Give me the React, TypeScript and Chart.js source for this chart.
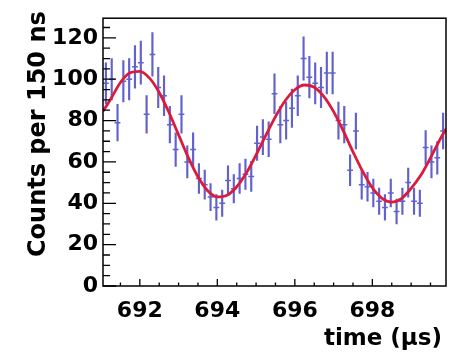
import React, { useEffect, useRef } from "react";
import { Chart, registerables } from "chart.js";

Chart.register(...registerables);

// Histogram bin centres (150 ns bins), in microseconds
const binTimes = [
  691.125, 691.275, 691.425, 691.575, 691.725, 691.875, 692.025, 692.175, 692.325, 692.475,
  692.625, 692.775, 692.925, 693.075, 693.225, 693.375, 693.525, 693.675, 693.825, 693.975,
  694.125, 694.275, 694.425, 694.575, 694.725, 694.875, 695.025, 695.175, 695.325, 695.475,
  695.625, 695.775, 695.925, 696.075, 696.225, 696.375, 696.525, 696.675, 696.825, 696.975,
  697.125, 697.275, 697.425, 697.575, 697.725, 697.875, 698.025, 698.175, 698.325, 698.475,
  698.625, 698.775, 698.925, 699.075, 699.225, 699.375, 699.525, 699.675, 699.825,
];

// Counts per bin
const counts = [
  98, 100, 79, 99, 100, 106, 108, 83, 112, 96,
  92, 78, 66, 83, 60, 66, 52, 49, 43, 38,
  40, 51, 47, 52, 54, 53, 69, 72, 71, 93,
  78, 80, 86, 92, 110, 101, 98, 96, 103, 103,
  80, 78, 56, 75, 49, 48, 45, 41, 38, 45,
  36, 41, 50, 41, 40, 67, 60, 62, 75,
];

// Fit curve
const fitTimes = [
  691.05, 691.25, 691.5, 691.75, 692.0, 692.25, 692.5, 692.75, 693.0, 693.25,
  693.5, 693.75, 694.0, 694.25, 694.5, 694.75, 695.0, 695.25, 695.5, 695.75,
  696.0, 696.25, 696.5, 696.75, 697.0, 697.25, 697.5, 697.75, 698.0, 698.25,
  698.5, 698.75, 699.0, 699.25, 699.5, 699.75, 699.9,
];
const fitValues = [
  84.5, 90.4, 98.4, 103.1, 103.8, 100.5, 93.6, 84.0, 73.1, 62.2,
  52.8, 46.1, 43.1, 43.9, 48.0, 54.7, 63.4, 72.8, 81.9, 89.6,
  94.9, 97.2, 96.1, 91.6, 84.3, 75.0, 64.9, 55.4, 47.5, 42.4,
  40.6, 42.3, 47.2, 53.5, 62.0, 71.0, 76.0,
];

const xTickLabels = [692, 694, 696, 698];
const yTickLabels = [0, 20, 40, 60, 80, 100, 120];
const xTitle = "time (µs)";
const yTitle = "Counts per 150 ns";
const binHalfWidth = 0.075;

const X_MIN = 691.05;
const X_MAX = 699.9;
const Y_MIN = 0;
const Y_MAX = 129.5;

const ERR_COLOR = "#6262cc";
const FIT_COLOR = "#dc1a3c";
const FONT = '"DejaVu Sans", "Liberation Sans", sans-serif';

const rootFramePlugin = {
  id: "rootFrame",
  afterDraw(chart: any) {
    const { ctx, chartArea: a, scales } = chart;
    const xs = scales.x;
    const ys = scales.y;
    ctx.save();
    ctx.strokeStyle = "#000";
    ctx.lineWidth = 1.5;
    ctx.strokeRect(a.left, a.top, a.right - a.left, a.bottom - a.top);

    ctx.lineWidth = 1.3;
    ctx.beginPath();
    for (let k = 0; k * 5 <= ys.max + 1e-9; k++) {
      const v = k * 5;
      const y = ys.getPixelForValue(v);
      const len = v % 20 === 0 ? 13 : 7;
      ctx.moveTo(a.left, y);
      ctx.lineTo(a.left + len, y);
    }
    for (let k = Math.ceil(xs.min * 2); k <= Math.floor(xs.max * 2); k++) {
      const v = k / 2;
      const x = xs.getPixelForValue(v);
      const len = k % 4 === 0 ? 7 : 3.5;
      ctx.moveTo(x, a.bottom);
      ctx.lineTo(x, a.bottom - len);
    }
    ctx.stroke();

    ctx.fillStyle = "#000";
    ctx.font = `bold 23px ${FONT}`;
    ctx.textAlign = "right";
    ctx.textBaseline = "alphabetic";
    ctx.fillText(xTitle, a.right - 4, a.bottom + 59);

    ctx.translate(a.left - 58, a.top - 7);
    ctx.rotate(-Math.PI / 2);
    ctx.font = `bold 24px ${FONT}`;
    ctx.textAlign = "right";
    ctx.fillText(yTitle, 0, 0);
    ctx.restore();
  },
};

export default function App() {
  const canvasRef = useRef<HTMLCanvasElement | null>(null);

  useEffect(() => {
    const canvas = canvasRef.current;
    if (!canvas) return;
    const tickFont = { family: FONT, size: 22, weight: "bold" as const };

    const chart = new Chart(canvas, {
      type: "scatter",
      data: {
        datasets: [
          {
            type: "line",
            label: "fit",
            data: fitTimes.map((t, i) => ({ x: t, y: fitValues[i] })),
            borderColor: FIT_COLOR,
            borderWidth: 2.8,
            pointRadius: 0,
            cubicInterpolationMode: "monotone",
            fill: false,
            order: 0,
          } as any,
          {
            type: "scatter",
            label: "bins",
            data: binTimes.map((t, i) => ({ x: t, y: counts[i] })),
            pointStyle: "line",
            pointRadius: (c: any) => {
              const s = c.chart.scales.x;
              return Math.abs(s.getPixelForValue(s.min + binHalfWidth) - s.getPixelForValue(s.min));
            },
            borderColor: ERR_COLOR,
            backgroundColor: ERR_COLOR,
            pointBorderWidth: 1.5,
            order: 1,
          } as any,
          {
            type: "bar",
            label: "errors",
            data: binTimes.map((t, i) => ({
              x: t,
              y: [counts[i] - Math.sqrt(counts[i]), counts[i] + Math.sqrt(counts[i])],
            })),
            backgroundColor: ERR_COLOR,
            borderWidth: 0,
            barThickness: 1.5,
            grouped: false,
            order: 2,
          } as any,
        ],
      },
      options: {
        responsive: false,
        animation: false,
        devicePixelRatio: 1,
        events: [],
        layout: { padding: { top: 12, right: 13, left: 0, bottom: 0 } },
        plugins: {
          legend: { display: false },
          tooltip: { enabled: false },
        },
        scales: {
          x: {
            type: "linear",
            position: "bottom",
            min: X_MIN,
            max: X_MAX,
            offset: false,
            grid: { display: false, drawTicks: false, offset: false },
            border: { display: false },
            ticks: {
              stepSize: 2,
              includeBounds: false,
              autoSkip: false,
              maxRotation: 0,
              padding: 12,
              color: "#000",
              font: tickFont,
              callback: (v: any) => (xTickLabels.includes(Number(v)) ? String(v) : ""),
            },
            afterFit: (s: any) => {
              s.height = 70;
            },
          },
          y: {
            type: "linear",
            position: "left",
            min: Y_MIN,
            max: Y_MAX,
            grid: { display: false, drawTicks: false },
            border: { display: false },
            ticks: {
              stepSize: 20,
              includeBounds: false,
              autoSkip: false,
              padding: 5,
              color: "#000",
              font: tickFont,
              callback: (v: any) => (yTickLabels.includes(Number(v)) ? String(v) : ""),
            },
            afterFit: (s: any) => {
              s.width = 103;
            },
          },
        },
      } as any,
      plugins: [rootFramePlugin],
    });

    return () => chart.destroy();
  }, []);

  return (
    <div style={{ position: "fixed", left: 0, top: 0, width: 459, height: 356, background: "#fff" }}>
      <canvas ref={canvasRef} width={459} height={356} style={{ display: "block" }} />
    </div>
  );
}
